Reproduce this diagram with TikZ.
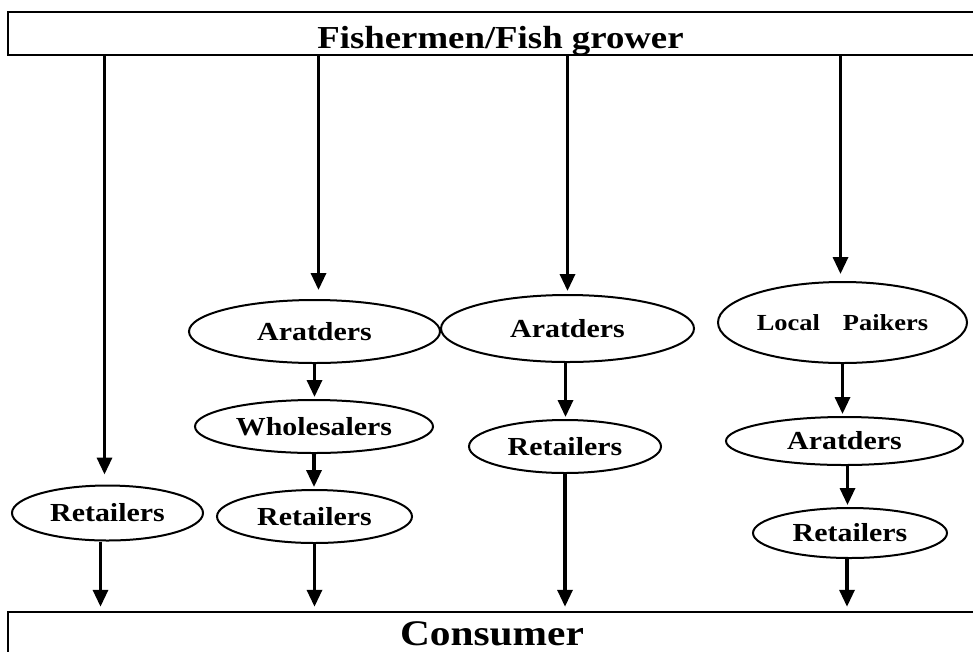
\documentclass[tikz,border=0pt]{standalone}
\usepackage{fontspec}
\setmainfont{Liberation Serif}[FakeStretch=1.15]
\usetikzlibrary{shapes.geometric,arrows.meta}
\begin{document}
\begin{tikzpicture}[x=1pt,y=-1pt,
  ell/.style={draw,ellipse,line width=2pt,inner sep=0pt,font=\bfseries\fontsize{26}{30}\selectfont},
  boxr/.style={draw,rectangle,line width=2.5pt,inner sep=0pt},
  arr/.style={line width=3.3pt,-{Triangle[width=15pt,length=17pt]}}]
\useasboundingbox (0,0) rectangle (973,651);
\clip (0,0) rectangle (973,651);
% boxes
\node[boxr,minimum width=985pt,minimum height=43pt] (fish) at (500.5,33.5) {};
\node[anchor=base,font=\bfseries\fontsize{32}{36}\selectfont] (fishtxt) at (500.5,48) {Fishermen/Fish grower};
\node[boxr,minimum width=968pt,minimum height=60pt] (cons) at (492,642) {};
\node[anchor=base,font=\bfseries\fontsize{36}{40}\selectfont] (constxt) at (492,645) {Consumer};
% ellipses
\node[ell,minimum width=191pt,minimum height=55pt] (r1) at (107.5,513) {Retailers};
\node[ell,minimum width=251pt,minimum height=63pt] (a2) at (314.5,331.5) {Aratders};
\node[ell,minimum width=238pt,minimum height=53pt] (w2) at (314,426.5) {Wholesalers};
\node[ell,minimum width=195pt,minimum height=53pt] (r2) at (314.5,516.5) {Retailers};
\node[ell,minimum width=253pt,minimum height=67pt] (a3) at (567.5,328.5) {Aratders};
\node[ell,minimum width=192pt,minimum height=53pt] (r3) at (565,446.5) {Retailers};
\node[ell,minimum width=249pt,minimum height=81pt,font=\bfseries\fontsize{23}{26}\selectfont] (l4) at (842.5,322.5) {Local\hspace{23pt}Paikers};
\node[ell,minimum width=237pt,minimum height=48pt] (a4) at (844.5,441) {Aratders};
\node[ell,minimum width=194pt,minimum height=50pt] (r4) at (850,533) {Retailers};
% arrows from producers
\draw[arr,shorten >=10pt] ([xshift=-3pt]fish.south -| r1.north) -- ([xshift=-3pt]r1.north);
\draw[arr,shorten >=9pt] ([xshift=4pt]fish.south -| a2.north) -- ([xshift=4pt]a2.north);
\draw[arr,shorten >=3pt] (fish.south -| a3.north) -- (a3.north);
\draw[arr,shorten >=7pt] ([xshift=-2pt]fish.south -| l4.north) -- ([xshift=-2pt]l4.north);
% inner arrows
\draw[arr,shorten >=2pt] (a2.south) -- (a2.south |- w2.north);
\draw[arr,shorten >=2pt] (w2.south) -- (w2.south |- r2.north);
\draw[arr,shorten >=2pt] ([xshift=-2pt]a3.south) -- ([xshift=-2pt]a3.south |- r3.north);
\draw[arr,shorten >=2pt] (l4.south) -- (l4.south |- a4.north);
\draw[arr,shorten >=2pt] ([xshift=3pt]a4.south) -- ([xshift=3pt]a4.south |- r4.north);
% arrows to consumer
\draw[arr,shorten >=4pt] ([xshift=-7pt]r1.south) -- ([xshift=-7pt]r1.south |- cons.north);
\draw[arr,shorten >=4pt] (r2.south) -- (r2.south |- cons.north);
\draw[arr,shorten >=4pt] (r3.south) -- (r3.south |- cons.north);
\draw[arr,shorten >=4pt] ([xshift=-3pt]r4.south) -- ([xshift=-3pt]r4.south |- cons.north);
\end{tikzpicture}
\end{document}
